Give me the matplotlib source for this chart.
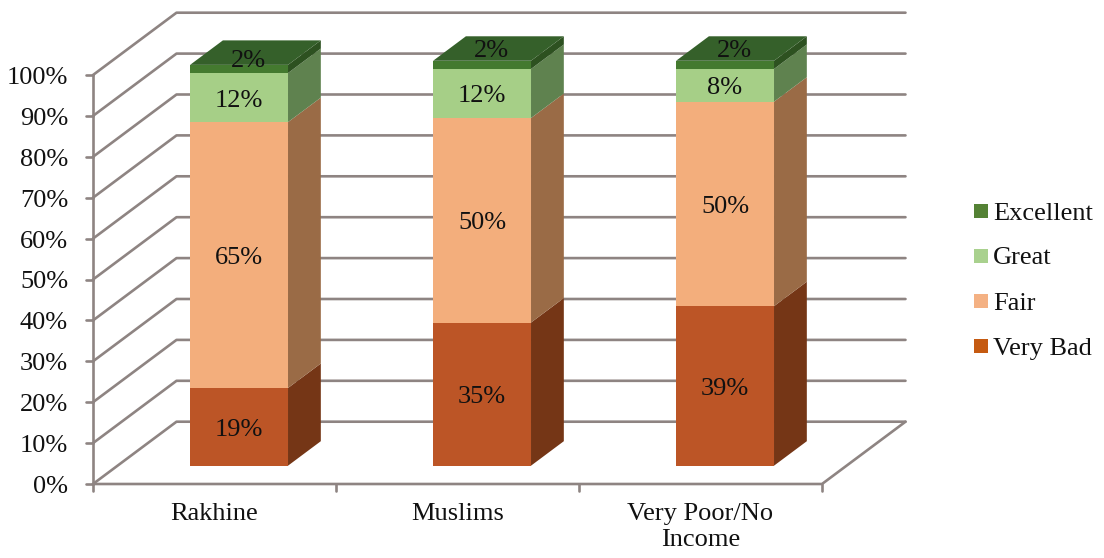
import matplotlib
matplotlib.use('Agg')
import matplotlib.pyplot as plt
from matplotlib.patches import Polygon, Rectangle

plt.rcParams['font.family'] = ['Liberation Serif', 'DejaVu Serif']

# values (bottom to top of each stack)
categories = ['Rakhine', 'Muslims', 'Very Poor/No\nIncome']
series_names = ['Very Bad', 'Fair', 'Great', 'Excellent']
very_bad = [19, 35, 39]
fair = [65, 50, 50]
great = [12, 12, 8]
excellent = [2, 2, 2]
series_values = [very_bad, fair, great, excellent]
y_ticks = [0, 10, 20, 30, 40, 50, 60, 70, 80, 90, 100]

# colours per series: front, side, top
front_colors = ['#BC5526', '#F3AE7C', '#A6CF87', '#447A2F']
side_colors = ['#753616', '#9A6B46', '#5F824F', '#2D5120']
top_colors = ['#753616', '#9A6B46', '#5F824F', '#35602A']
legend_colors = ['#C55A11', '#F4B183', '#A9D18E', '#548235']
grid_color = '#8E8482'

# fake 3d layout, in pixels of the output image
x0, y0 = 93, 484
cat_w = 243
unit = 4.09
depth_x, depth_y = 83.5, -62.3
bar_w = 0.403
bar_d0, bar_d1 = 0.294, 0.687
font_size = 19


def proj(pos, val, depth):
    # category position, percent, depth (0 front, 1 back wall) -> image pixels
    return (x0 + cat_w * pos + depth_x * depth, y0 - unit * val + depth_y * depth)


fig = plt.figure(figsize=(11.04, 5.58), dpi=100)
ax = fig.add_axes([0, 0, 1, 1])
ax.set_xlim(0, 1104)
ax.set_ylim(558, 0)
ax.axis('off')

n = len(categories)
line = dict(color=grid_color, lw=1.9, solid_capstyle='round', zorder=1)

# walls and gridlines
for v in y_ticks:
    a, b, c = proj(0, v, 0), proj(0, v, 1), proj(n, v, 1)
    ax.plot([a[0], b[0], c[0]], [a[1], b[1], c[1]], **line)
    t = proj(0, v, 0)
    ax.plot([t[0] - 7, t[0]], [t[1], t[1]], **line)
    ax.text(t[0] - 25, t[1] + 3, f'{v}%', ha='right', va='center', fontsize=font_size, color='#111111')

# floor edges and axis lines
f1, f2, f3 = proj(0, 0, 0), proj(n, 0, 0), proj(n, 0, 1)
ax.plot([f1[0], f2[0], f3[0]], [f1[1], f2[1], f3[1]], **line)
top = proj(0, 100, 0)
ax.plot([f1[0], top[0]], [f1[1], top[1]], **line)
for i in range(n + 1):
    t = proj(i, 0, 0)
    ax.plot([t[0], t[0]], [t[1], t[1] + 7], **line)

# stacked bars
for i in range(n):
    left = i + 0.5 - bar_w / 2
    right = i + 0.5 + bar_w / 2
    base = 0
    for s in range(len(series_names)):
        v = series_values[s][i]
        upper = base + v
        ax.add_patch(Polygon([proj(left, base, bar_d0), proj(right, base, bar_d0),
                              proj(right, upper, bar_d0), proj(left, upper, bar_d0)],
                             fc=front_colors[s], ec='none', zorder=3))
        ax.add_patch(Polygon([proj(right, base, bar_d0), proj(right, base, bar_d1),
                              proj(right, upper, bar_d1), proj(right, upper, bar_d0)],
                             fc=side_colors[s], ec='none', zorder=3))
        if s == len(series_names) - 1:
            ax.add_patch(Polygon([proj(left, upper, bar_d0), proj(right, upper, bar_d0),
                                  proj(right, upper, bar_d1), proj(left, upper, bar_d1)],
                                 fc=top_colors[s], ec='none', zorder=3))
        cx, cy = proj(i + 0.5, (base + upper) / 2, bar_d0)
        if s == len(series_names) - 1:
            # these labels sit on the top face of the bar
            cx += 9
            cy -= 11 if i == 0 else 17
        ax.text(cx, cy + 3, f'{v}%', ha='center', va='center', fontsize=font_size, color='#111111', zorder=5)
        base = upper

# category labels
for i, name in enumerate(categories):
    t = proj(i + 0.5, 0, 0)
    ax.text(t[0], t[1] + 19, name, ha='center', va='top', fontsize=font_size,
            linespacing=1.25, color='#111111')

# legend
legend_y = [346, 301, 256, 211]
for s, name in enumerate(series_names):
    ax.add_patch(Rectangle((974, legend_y[s] - 7), 14, 14, fc=legend_colors[s], ec='none'))
    ax.text(993, legend_y[s] + 2.5, name, ha='left', va='center', fontsize=font_size, color='#111111')

fig.savefig('out.png', dpi=100)
